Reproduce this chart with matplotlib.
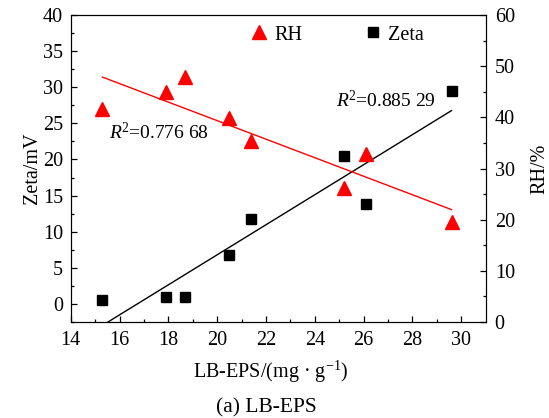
import numpy as np
import matplotlib
matplotlib.use('Agg')
import matplotlib.pyplot as plt

plt.rcParams['font.family'] = ['Liberation Serif', 'DejaVu Serif']
plt.rcParams['mathtext.fontset'] = 'custom'
plt.rcParams['mathtext.rm'] = 'Liberation Serif'
plt.rcParams['mathtext.it'] = 'Liberation Serif:italic'

# data
lb_eps = [15.3, 17.9, 18.7, 20.5, 21.4, 25.2, 26.1, 29.6]
zeta = [0.6, 0.9, 1.0, 6.8, 11.8, 20.5, 13.9, 29.5]
rh = [41.7, 45.0, 47.9, 39.8, 35.3, 26.1, 32.9, 19.5]

x = np.array(lb_eps)
k1, b1 = np.polyfit(x, zeta, 1)
k2, b2 = np.polyfit(x, rh, 1)
xf = np.array([x.min(), x.max()])

fig = plt.figure(figsize=(5.49, 4.18), dpi=100)
ax1 = fig.add_axes([70.7/549, 1 - 322/418, 415/549, 307/418])
ax2 = ax1.twinx()

ax1.plot(xf, k1*xf + b1, color='black', lw=1)
sq, = ax1.plot(x, zeta, 's', color='black', ms=6.5, ls='none', label='Zeta')
ax2.plot(xf, k2*xf + b2, color='red', lw=1)
tri, = ax2.plot(x, rh, '^', color='red', ms=10, ls='none', label='RH')

ax1.set_xlim(14, 31)
ax1.set_ylim(-2.5, 40)
ax2.set_ylim(0, 60)
ax1.set_xticks(np.arange(14, 31, 2))
ax1.set_xticks(np.arange(15, 31, 2), minor=True)
ax1.set_yticks(np.arange(0, 41, 5))
ax1.set_yticks(np.arange(-2.5, 40, 5), minor=True)
ax2.set_yticks(np.arange(0, 61, 10))
ax2.set_yticks(np.arange(5, 60, 10), minor=True)

for a in (ax1, ax2):
    a.tick_params(direction='in', which='both', labelsize=14.5, width=0.9)
    a.tick_params(which='major', length=4.5)
    a.tick_params(which='minor', length=2.5)
ax1.tick_params(axis='y', pad=5.5)
ax1.tick_params(axis='x', pad=6.5)
ax2.tick_params(axis='y', pad=6.5)
ax1.tick_params(top=False, right=False)
ax2.tick_params(top=False)

ax1.set_xlabel('LB-EPS/(mg · g$^{-1}$)', fontsize=14.5)
ax1.xaxis.set_label_coords((271 - 70.7)/415, -0.12)
ax1.set_ylabel('Zeta/mV', fontsize=14.5, labelpad=1)
ax2.set_ylabel('RH/%', fontsize=14.5, labelpad=11)

ax1.text(15.55, 23.8, '$R$$^{2}$=0.776 68', fontsize=14, ha='left', va='center')
ax1.text(24.86, 28.2, '$R$$^{2}$=0.885 29', fontsize=14, ha='left', va='center')

ax2.legend(handles=[tri, sq], ncol=2, frameon=False, fontsize=14.5,
           loc='center left', bbox_to_anchor=((249 - 70.7)/415, (322 - 35)/307),
           borderpad=0, borderaxespad=0, columnspacing=3.0,
           handletextpad=0.25, handlelength=1.0)

fig.text(266/549, 1 - 408/418, '(a) LB-EPS', fontsize=15.5, ha='center', va='center')

fig.savefig('out.png', dpi=100)
